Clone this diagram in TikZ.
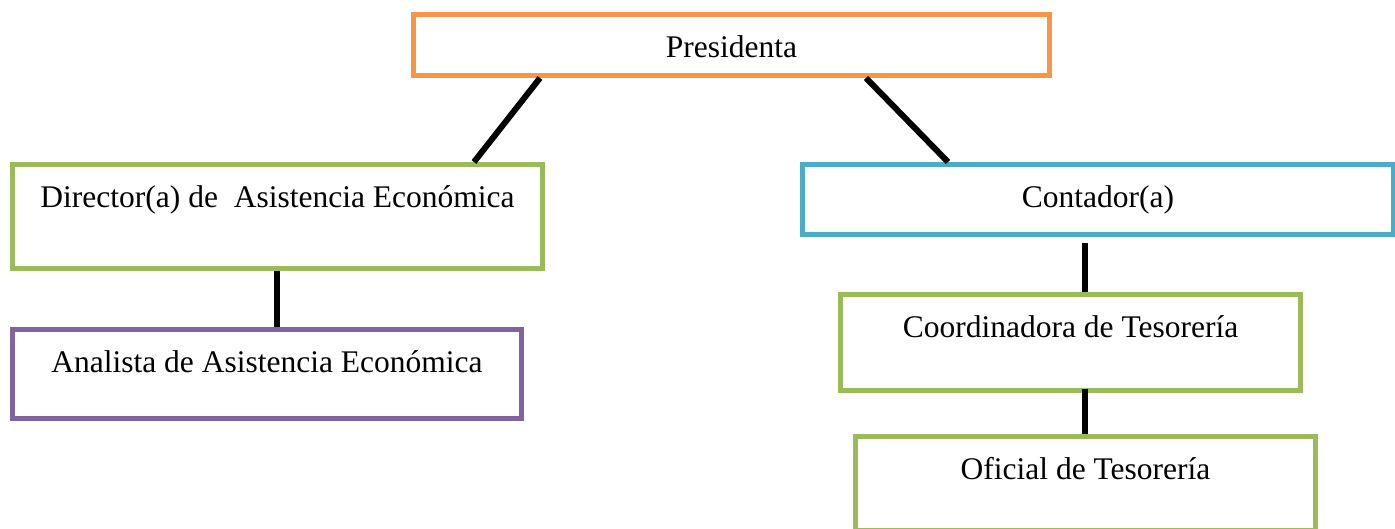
\documentclass[tikz,border=0pt]{standalone}
\usepackage{fontspec}
\setmainfont{Liberation Serif}
\usepackage{xcolor}
\usepackage{tikz}
\usetikzlibrary{positioning}
\usetikzlibrary{calc}
\definecolor{cargoorange}{HTML}{F79646}
\definecolor{cargogreen}{HTML}{9BBB59}
\definecolor{cargoblue}{HTML}{4BACC6}
\definecolor{cargopurple}{HTML}{8064A2}
\tikzset{cargo/.style = {draw, line width=5pt, rectangle, anchor=north west, inner xsep=0pt, inner ysep=0pt, text height=43pt, font=\fontsize{31.5}{38}\selectfont}}
\tikzset{link/.style = {line width=6pt, black}}

\begin{document}
\begin{tikzpicture}[x=1pt,y=-1pt]
                \useasboundingbox (0,0) rectangle (1395,529);
                \node[cargo, cargoorange, text=black, minimum width=636pt, text depth=18pt] (pres) at (411,12) {Presidenta};
                \node[cargo, cargogreen, text=black, minimum width=530pt, text depth=61pt] (dir) at (10,162) {Director(a) de\ \ Asistencia Económica};
                \node[cargo, cargoblue, text=black, minimum width=591pt, text depth=27pt] (cont) at (800,162) {Contador(a)};
                \node[cargo, cargopurple, text=black, minimum width=509pt, text depth=46pt] (anal) at (10,327) {Analista de Asistencia Económica};
                \node[cargo, cargogreen, text=black, minimum width=460pt, text depth=53pt] (coord) at (838,292) {Coordinadora de Tesorería};
                \node[cargo, cargogreen, text=black, minimum width=460pt, text depth=51pt] (ofic) at (853,434) {Oficial de Tesorería};

                \draw[link] ($(pres.south west)+(129,0)$) -- ($(dir.north west)+(464,0)$);
                \draw[link] ($(pres.south west)+(455,0)$) -- ($(cont.north west)+(148,0)$);
                \draw[link] ($(dir.south west)+(267,0)$) -- ($(anal.north west)+(267,0)$);
                \draw[link] ($(cont.south west)+(285,6)$) -- ($(coord.north west)+(247,0)$);
                \draw[link] ($(coord.south west)+(247,-4)$) -- ($(ofic.north west)+(232,0)$);
            \end{tikzpicture}
\end{document}
